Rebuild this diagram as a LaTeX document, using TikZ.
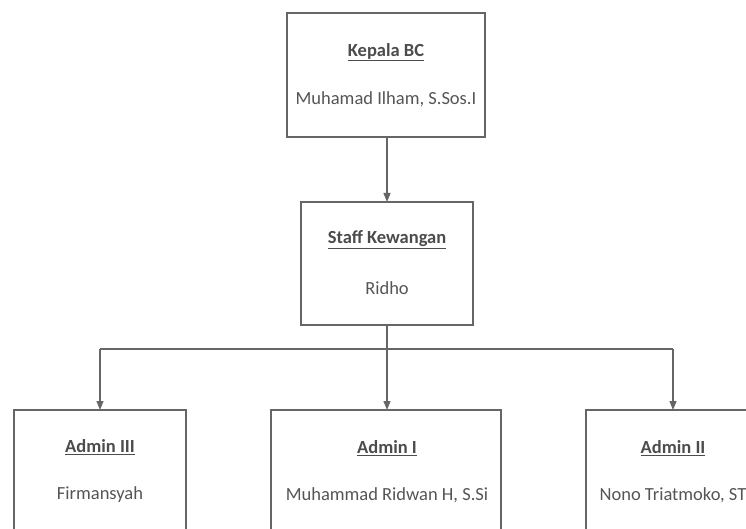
\documentclass[tikz,border=0pt]{standalone}
\usepackage{fontspec}
\setmainfont{Carlito}
\usetikzlibrary{arrows.meta}
\definecolor{linegray}{HTML}{666666}
\definecolor{textgray}{HTML}{555555}
\tikzset{
  orgbox/.style={draw=linegray, line width=1.2pt, fill=white},
  headtxt/.style={font=\fontsize{18.5}{22}\selectfont\bfseries, text=textgray!90!black, inner sep=0pt},
  persontxt/.style={font=\fontsize{18.5}{22}\selectfont, text=textgray, inner sep=0pt},
  conn/.style={draw=linegray, line width=1.2pt},
  arr/.style={conn, -{Triangle[length=9pt,width=7pt]}}
}
\begin{document}
\begin{tikzpicture}[x=1pt,y=-1pt]
\useasboundingbox (0,0) rectangle (746,529);
\clip (0,0) rectangle (746,529);
\fill[white] (0,0) rectangle (746,529);
% boxes
\draw[orgbox] (287,13) rectangle (485,137);
\coordinate (topb) at (387,137);
\draw[orgbox] (301,202) rectangle (473,325);
\coordinate (midt) at (387,202);
\coordinate (midb) at (387,325);
\draw[orgbox] (14,410) rectangle (186,560);
\draw[orgbox] (271,410) rectangle (501,560);
\draw[orgbox] (586,410) rectangle (760,560);
\coordinate (lt) at (100,410);
\coordinate (ct) at (387,410);
\coordinate (rt) at (673,410);
\coordinate (jl) at (100,349);
\coordinate (jc) at (387,349);
\coordinate (jr) at (673,349);
% texts
\node[headtxt] (kh) at (386,52) {\underline{Kepala BC}};
\node[persontxt] (kn) at (386,99) {Muhamad Ilham, S.Sos.I};
\node[headtxt] (sh) at (387,240) {\underline{Staff Kewangan}};
\node[persontxt] (sn) at (387,288) {Ridho};
\node[headtxt] (a3h) at (100,447) {\underline{Admin III}};
\node[persontxt] (a3n) at (100,495) {Firmansyah};
\node[headtxt] (a1h) at (387,448) {\underline{Admin I}};
\node[persontxt] (a1n) at (387,495) {Muhammad Ridwan H, S.Si};
\node[headtxt] (a2h) at (673,448) {\underline{Admin II}};
\node[persontxt] (a2n) at (673,495) {Nono Triatmoko, ST};
% connectors
\draw[arr] (topb) -- (midt);
\draw[conn] (midb) -- (jc);
\draw[conn] (jl) -- (jr);
\draw[arr] (jl) -- (lt);
\draw[arr] (jc) -- (ct);
\draw[arr] (jr) -- (rt);
\end{tikzpicture}
\end{document}
